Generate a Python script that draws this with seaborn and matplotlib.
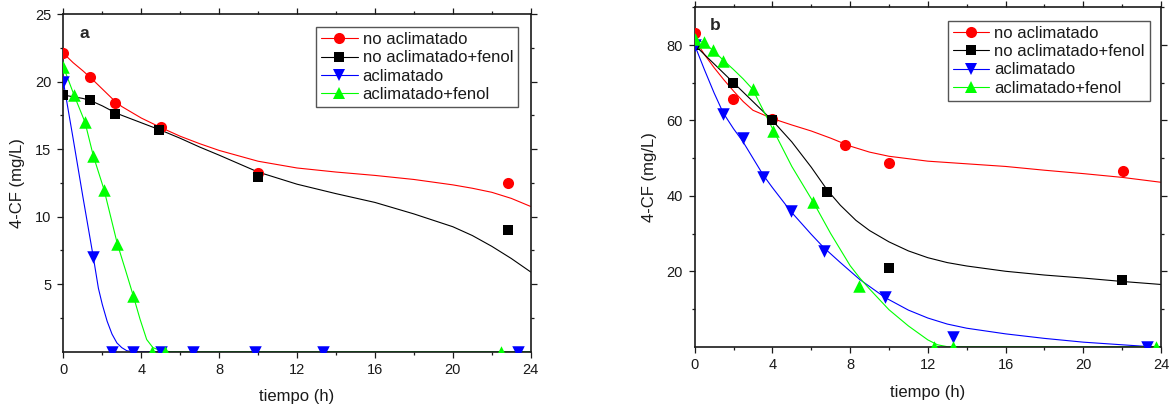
import numpy as np
import pandas as pd
import matplotlib
matplotlib.use("Agg")
import matplotlib.pyplot as plt
from matplotlib.lines import Line2D
from matplotlib.ticker import MultipleLocator, FixedLocator
import seaborn as sns

sns.set_theme(style="white")
plt.rcParams['font.family'] = ['Liberation Sans', 'DejaVu Sans']

# ---------------- data: panel a ----------------
labels = ["no aclimatado", "no aclimatado+fenol", "aclimatado", "aclimatado+fenol"]
colors = ["#ff0000", "#000000", "#0000ff", "#00ff00"]
markers = ["o", "s", "v", "^"]

a_red_t = [0, 1.38, 2.66, 5.0, 10.0, 22.83]
a_red_v = [22.1, 20.3, 18.4, 16.6, 13.2, 12.5]
a_black_t = [0, 1.38, 2.66, 4.93, 10.0, 22.84]
a_black_v = [19.0, 18.6, 17.6, 16.4, 12.9, 9.0]
a_blue_t = [0, 1.54, 2.5, 3.6, 5.0, 6.65, 9.86, 13.35, 23.32]
a_blue_v = [20.0, 7.0, 0, 0, 0, 0, 0, 0, 0]
a_green_t = [0, 0.55, 1.11, 1.54, 2.09, 2.77, 3.6, 4.54, 5.23, 22.47]
a_green_v = [21.1, 19.0, 17.0, 14.5, 12.0, 8.0, 4.1, 0, 0, 0]

# fitted curves
a_red_ct = [0, 0.5, 1, 1.5, 2, 2.5, 3, 4, 5, 6, 7, 8, 10, 12, 14, 16, 18, 20, 21, 22, 23, 24]
a_red_cv = [22.1, 21.4, 20.8, 20.15, 19.45, 18.75, 18.15, 17.3, 16.6, 15.95, 15.4, 14.9, 14.1,
            13.6, 13.3, 13.05, 12.75, 12.35, 12.1, 11.8, 11.35, 10.75]
a_black_ct = [0, 1, 1.38, 2, 2.66, 3, 4, 5, 6, 7, 8, 10, 12, 14, 16, 18, 20, 21, 22, 23, 24]
a_black_cv = [19.0, 18.75, 18.6, 18.2, 17.7, 17.5, 16.95, 16.4, 15.8, 15.15, 14.55, 13.3, 12.4,
              11.7, 11.05, 10.2, 9.25, 8.6, 7.8, 6.9, 5.9]
a_blue_ct = [0, 0.5, 1, 1.54, 1.8, 2.0, 2.25, 2.5, 2.75, 3.0, 3.25, 3.5, 24]
a_blue_cv = [20.0, 15.8, 11.5, 7.0, 4.7, 3.5, 2.25, 1.3, 0.65, 0.3, 0.08, 0, 0]
a_green_ct = [0, 0.55, 1.11, 1.54, 2.09, 2.77, 3.2, 3.6, 3.94, 4.28, 4.6, 5.0, 5.5, 24]
a_green_cv = [21.1, 19.0, 17.0, 14.5, 12.0, 8.0, 6.0, 4.1, 2.4, 0.9, 0.3, 0.08, 0, 0]

# ---------------- data: panel b ----------------
b_red_t = [0, 1.95, 3.96, 7.74, 10.0, 22.05]
b_red_v = [83.3, 65.6, 60.5, 53.6, 48.8, 46.6]
b_black_t = [0, 1.99, 3.96, 6.83, 9.98, 21.98]
b_black_v = [80.0, 69.9, 60.0, 41.1, 20.8, 17.7]
b_blue_t = [0, 1.47, 2.47, 3.53, 4.96, 6.64, 9.81, 13.3, 23.3]
b_blue_v = [80.0, 61.6, 55.4, 45.1, 36.1, 25.3, 13.1, 2.7, 0]
b_green_t = [0, 0.48, 0.96, 1.47, 2.98, 4.04, 6.11, 8.47, 12.3, 13.3, 23.75]
b_green_v = [81.5, 80.9, 78.7, 75.8, 68.3, 57.2, 38.3, 16.0, 0, 0, 0]

b_red_ct = [0, 0.5, 1, 1.5, 2, 2.5, 3, 4, 5, 6, 7, 8, 9, 10, 12, 14, 16, 18, 20, 22, 24]
b_red_cv = [81.5, 77.5, 74.0, 70.8, 67.8, 65.0, 62.7, 60.5, 58.8, 57.2, 55.3, 53.2, 51.6, 50.5,
            49.2, 48.5, 47.8, 46.8, 45.9, 44.9, 43.6]
b_black_ct = [0, 1, 2, 3, 4, 5, 6, 6.83, 7.5, 8.3, 9, 10, 11, 12, 13, 14, 16, 18, 20, 22, 24]
b_black_cv = [80, 75, 70, 65, 60, 54.3, 47.6, 41.5, 37.5, 33.5, 30.8, 27.8, 25.4, 23.6, 22.3,
              21.4, 20.0, 19.0, 18.2, 17.3, 16.5]
b_blue_ct = [0, 0.5, 1, 1.47, 2, 2.47, 3, 3.53, 4, 4.96, 6, 6.64, 7.5, 8.5, 9.81, 11, 12, 13, 14,
             16, 18, 20, 22, 23.3, 24]
b_blue_cv = [80, 73.5, 67.3, 62.0, 57.8, 54.5, 50.0, 45.5, 42.2, 35.8, 29.8, 26.3, 22.3, 17.8,
             13.0, 9.7, 7.6, 6.0, 4.9, 3.4, 2.2, 1.2, 0.5, 0.05, 0]
b_green_ct = [0, 0.48, 0.96, 1.47, 2, 2.5, 2.98, 3.5, 4.04, 5, 6.11, 7, 8, 8.5, 9, 10, 11, 12,
              12.5, 13, 24]
b_green_cv = [81.5, 80.6, 78.5, 76.0, 73.5, 71.0, 68.3, 63.0, 57.5, 47.8, 38.3, 30.0, 21.5, 18.2,
              15.3, 9.8, 5.5, 1.8, 0.5, 0, 0]

panel_a = dict(
    pts=[(a_red_t, a_red_v), (a_black_t, a_black_v), (a_blue_t, a_blue_v), (a_green_t, a_green_v)],
    crv=[(a_red_ct, a_red_cv), (a_black_ct, a_black_cv), (a_blue_ct, a_blue_cv), (a_green_ct, a_green_cv)],
)
panel_b = dict(
    pts=[(b_red_t, b_red_v), (b_black_t, b_black_v), (b_blue_t, b_blue_v), (b_green_t, b_green_v)],
    crv=[(b_red_ct, b_red_cv), (b_black_ct, b_black_cv), (b_blue_ct, b_blue_cv), (b_green_ct, b_green_cv)],
)

msizes = [8.0, 7.4, 9.0, 9.0]

fig = plt.figure(figsize=(11.75, 4.07), dpi=100)
ax_a = fig.add_axes([0.0539, 0.1359, 0.3978, 0.8297])
ax_b = fig.add_axes([0.5912, 0.1482, 0.3969, 0.8338])


def draw(ax, panel):
    for i in range(4):
        ct, cv = panel["crv"][i]
        sns.lineplot(x=ct, y=cv, ax=ax, color=colors[i], lw=0.8, sort=False,
                     estimator=None, legend=False, zorder=2 + i * 0.1)
    for i in range(4):
        t, v = panel["pts"][i]
        sns.scatterplot(x=t, y=v, ax=ax, color=colors[i], marker=markers[i],
                        s=msizes[i] ** 2, linewidth=0, legend=False, zorder=3 + i * 0.1)


draw(ax_a, panel_a)
draw(ax_b, panel_b)

for ax in (ax_a, ax_b):
    ax.set_xlim(0, 24)
    ax.xaxis.set_major_locator(FixedLocator([0, 4, 8, 12, 16, 20, 24]))
    ax.xaxis.set_minor_locator(MultipleLocator(2))
    for sp in ax.spines.values():
        sp.set_visible(True)
        sp.set_color("#1a1a1a")
        sp.set_linewidth(1.2)
    ax.tick_params(which="both", direction="out", top=True, right=True, bottom=True, left=True,
                   labeltop=False, labelright=False, color="#1a1a1a", width=0.9)
    ax.tick_params(which="major", length=4.5, pad=4, labelsize=10.5, labelcolor="#1a1a1a")
    ax.tick_params(which="minor", length=2.5)
    ax.set_xlabel("tiempo (h)", fontsize=12, color="#1a1a1a")
    ax.set_ylabel("4-CF (mg/L)", fontsize=12, color="#1a1a1a")
    ax.grid(False)
    ax.set_facecolor("white")

ax_a.set_ylim(0, 25)
ax_a.yaxis.set_major_locator(FixedLocator([5, 10, 15, 20, 25]))
ax_a.yaxis.set_minor_locator(FixedLocator([2.5, 7.5, 12.5, 17.5, 22.5]))
ax_b.set_ylim(0, 90)
ax_b.yaxis.set_major_locator(FixedLocator([20, 40, 60, 80]))
ax_b.yaxis.set_minor_locator(FixedLocator([10, 30, 50, 70, 90]))

ax_a.xaxis.set_label_coords(0.5, -0.11)
ax_b.xaxis.set_label_coords(0.5, -0.113)
ax_a.yaxis.set_label_coords(-0.082, 0.5)
ax_b.yaxis.set_label_coords(-0.081, 0.5)

ax_a.text(1.06, 23.55, "a", fontsize=12.5, fontweight="bold", ha="center", va="center")
ax_b.text(1.04, 85.1, "b", fontsize=12.5, fontweight="bold", ha="center", va="center")

handles = [Line2D([0], [0], color=colors[i], lw=0.8, marker=markers[i], markersize=msizes[i],
                  markeredgewidth=0) for i in range(4)]

for ax, anchor in ((ax_a, (0.973, 0.9615)), (ax_b, (0.976, 0.9606))):
    leg = ax.legend(handles, labels, loc="upper right", bbox_to_anchor=anchor, borderaxespad=0,
                    fontsize=12, frameon=True, fancybox=False, handlelength=2.2,
                    handletextpad=0.3, labelspacing=0.2, borderpad=0.3)
    fr = leg.get_frame()
    fr.set_edgecolor("#555555")
    fr.set_linewidth(1.0)
    fr.set_alpha(1)
    for txt in leg.get_texts():
        txt.set_color("#1a1a1a")

fig.savefig("out.png", dpi=100, facecolor="white")
